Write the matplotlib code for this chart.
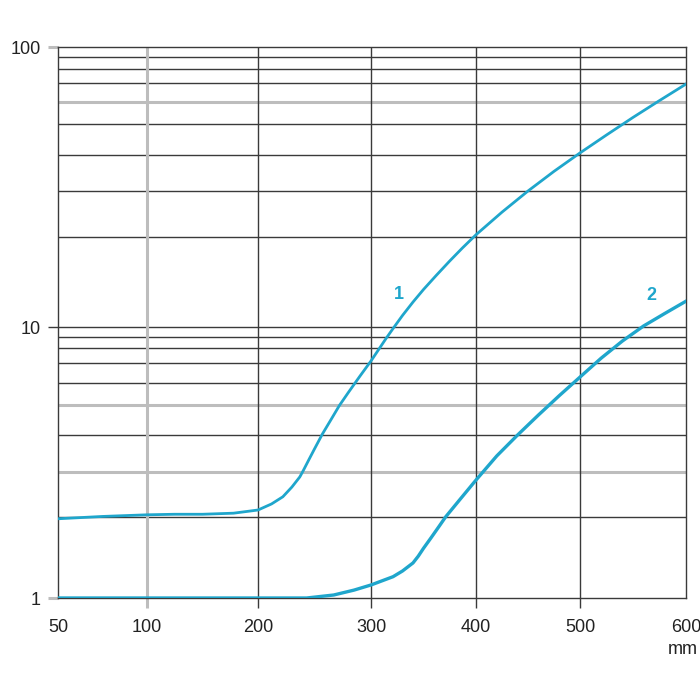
import numpy as np
import matplotlib

matplotlib.use("Agg")
import matplotlib.pyplot as plt

# ---- data -------------------------------------------------------
# curve 1
x1 = [50, 75, 100, 125, 150, 178, 200, 212, 222, 230, 237, 240, 245, 250,
      257, 265, 272, 280, 290, 300, 307, 314, 321, 330, 340, 350, 362, 375,
      387, 400, 425, 450, 475, 500, 525, 550, 575, 600]
y1 = [1.97, 2.01, 2.04, 2.05, 2.05, 2.07, 2.13, 2.25, 2.40, 2.62, 2.87, 3.03,
      3.30, 3.59, 4.03, 4.51, 4.98, 5.55, 6.31, 7.13, 7.86, 8.81, 9.84,
      10.93, 12.12, 13.35, 14.86, 16.63, 18.37, 20.4, 24.9, 30.0, 35.1,
      40.6, 46.2, 52.8, 60.7, 69.4]
# curve 2
x2 = [50, 100, 150, 200, 243, 267, 285, 300, 321, 330, 340, 345, 350, 357,
      365, 371, 385, 400, 420, 440, 460, 480, 500, 520, 540, 560, 580, 600]
y2 = [1.0, 1.0, 1.0, 1.0, 1.0, 1.026, 1.07, 1.118, 1.2, 1.26, 1.35, 1.43,
      1.53, 1.67, 1.85, 2.0, 2.35, 2.79, 3.4, 4.0, 4.64, 5.40, 6.28, 7.31,
      8.62, 10.08, 11.1, 12.2]

x_ticks = [50, 100, 200, 300, 400, 500, 600]
y_ticks = [1, 10, 100]
y_grid = [2, 3, 4, 5, 6, 7, 8, 9, 10, 20, 30, 40, 50, 60, 70, 80, 90]
y_grid_grey = [3, 5, 60]
x_grid = [100, 200, 300, 400, 500]
x_grid_grey = [100]
curve_labels = [("1", 327, 12.8), ("2", 567, 12.7)]

# ---- the drawing's axes are hand-drawn, so map them piecewise ---
X_PIX = np.array([58, 147, 258, 371, 476, 580, 686], dtype=float)
Y_VALS = np.array([1, 2, 3, 4, 5, 6, 7, 8, 9, 10,
                   20, 30, 40, 50, 60, 70, 80, 90, 100], dtype=float)
Y_PIX = np.array([598, 517, 472, 435, 405, 383, 363, 348, 337, 327,
                  237, 191, 155, 124, 102, 83, 69, 57, 47], dtype=float)
LOGV = np.log10(Y_VALS)


def fwd_x(v):
    return np.interp(v, x_ticks, X_PIX)


def inv_x(p):
    return np.interp(p, X_PIX, x_ticks)


def fwd_y(v):
    v = np.clip(np.asarray(v, dtype=float), 1e-6, None)
    return np.interp(np.log10(v), LOGV, -Y_PIX)


def inv_y(p):
    return 10 ** np.interp(p, -Y_PIX, LOGV)


CYAN = "#1fa6cc"
DARK = "#3a3a3a"
GREY = "#bdbdbd"
TEXT = "#222222"

plt.rcParams["font.family"] = ["Liberation Sans", "DejaVu Sans"]

fig = plt.figure(figsize=(7, 7), dpi=100)
fig.patch.set_facecolor("white")
ax = fig.add_axes([58 / 700, 1 - 598 / 700, (686 - 58) / 700, (598 - 47) / 700])

ax.set_xscale("function", functions=(fwd_x, inv_x))
ax.set_yscale("function", functions=(fwd_y, inv_y))
ax.set_xlim(50, 600)
ax.set_ylim(1, 100)

# grid
for v in y_grid:
    grey = v in y_grid_grey
    ax.axhline(v, color=GREY if grey else DARK,
               lw=2.2 if grey else 1.0, zorder=1)
for v in x_grid:
    grey = v in x_grid_grey
    ax.axvline(v, color=GREY if grey else DARK,
               lw=2.2 if grey else 1.0, zorder=1)

ax.plot(x1, y1, color=CYAN, lw=2.0, zorder=3, solid_joinstyle="round")
ax.plot(x2, y2, color=CYAN, lw=2.4, zorder=3, solid_joinstyle="round")

for txt, xv, yv in curve_labels:
    ax.text(xv, yv, txt, color=CYAN, fontsize=13, fontweight="bold",
            ha="center", va="center", zorder=4)

# ticks & labels
ax.set_xticks(x_ticks)
ax.set_xticklabels([str(v) for v in x_ticks])
ax.set_yticks(y_ticks)
ax.set_yticklabels([str(v) for v in y_ticks])
ax.minorticks_off()
ax.tick_params(axis="both", direction="out", length=7.2, width=1.0,
               labelsize=13, labelcolor=TEXT, color=DARK)
ax.tick_params(axis="x", pad=8)
ax.tick_params(axis="y", pad=5)

for v, tick in zip(x_ticks, ax.xaxis.get_major_ticks()):
    if v in (50, 600):
        tick.tick1line.set_visible(False)
    elif v in x_grid_grey:
        tick.tick1line.set_markeredgecolor(GREY)
        tick.tick1line.set_markeredgewidth(2.2)
for v, tick in zip(y_ticks, ax.yaxis.get_major_ticks()):
    if v in (1, 100):
        tick.tick1line.set_markeredgecolor(GREY)
        tick.tick1line.set_markeredgewidth(2.2)

for side in ("left", "right", "top", "bottom"):
    ax.spines[side].set_color(DARK)
    ax.spines[side].set_linewidth(1.0)

fig.text(683 / 700, 1 - 650 / 700, "mm", fontsize=13, color=TEXT,
         ha="center", va="center")

fig.savefig("out.png", dpi=100, facecolor="white")
plt.close(fig)
